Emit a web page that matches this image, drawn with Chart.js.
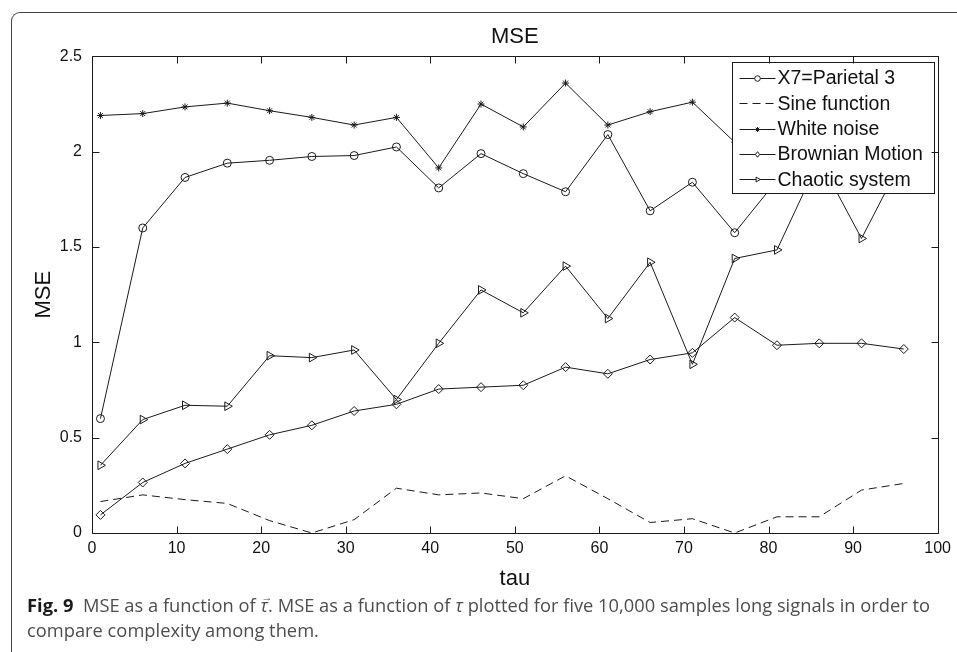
<!DOCTYPE html>
<html><head><meta charset="utf-8">
<script src="https://cdn.jsdelivr.net/npm/chart.js@4/dist/chart.umd.min.js"></script>
<style>
html,body{margin:0;padding:0;background:#fff;overflow:hidden;}
#wrap{position:relative;width:957px;height:652px;overflow:hidden;}
#frame{position:absolute;left:11px;top:12px;width:1000px;height:700px;border-left:1.5px solid #444;border-top:1.5px solid #444;border-top-left-radius:9px;}
#c{position:absolute;left:0;top:0;}
#cap{position:absolute;left:27px;top:593px;font-family:"Open Sans",sans-serif;font-size:18px;color:#4d4d4d;line-height:25px;white-space:nowrap;transform-origin:0 0;}
#cap b{color:#1a1a1a;}
.vec{position:relative;display:inline-block;font-style:italic;}
.vec .arr{position:absolute;left:1px;top:-9px;font-size:11px;font-style:normal;}
</style></head>
<body><div id="wrap"><div id="frame"></div><canvas id="c" width="957" height="600"></canvas>
<div id="cap"><span id="l1"><b>Fig. 9</b>&nbsp; MSE as a function of <span class="vec">τ<span class="arr">→</span></span>. MSE as a function of <i>τ</i> plotted for five 10,000 samples long signals in order to</span><br><span>compare complexity among them.</span></div></div>
<script>
const tau = [1,6,11,16,21,26,31,36,41,46,51,56,61,66,71,76,81,86,91,96];
const parietal = [0.60,1.60,1.865,1.94,1.955,1.975,1.98,2.025,1.81,1.99,1.885,1.79,2.09,1.69,1.84,1.575,1.85,1.95,1.84,2.0];
const sine = [0.165,0.20,0.175,0.155,0.065,0.0,0.07,0.235,0.20,0.21,0.18,0.30,0.18,0.055,0.075,0.0,0.085,0.085,0.225,0.26];
const whiteNoise = [2.19,2.20,2.235,2.255,2.215,2.18,2.14,2.18,1.915,2.25,2.13,2.36,2.14,2.21,2.26,2.05,2.17,2.22,2.12,2.24];
const brownian = [0.095,0.265,0.365,0.44,0.515,0.565,0.64,0.675,0.755,0.765,0.775,0.87,0.835,0.91,0.945,1.13,0.985,0.995,0.995,0.965];
const chaotic = [0.355,0.595,0.67,0.665,0.93,0.92,0.96,0.70,0.995,1.275,1.155,1.40,1.125,1.42,0.885,1.44,1.485,1.96,1.545,1.975];
const seriesLabels = ['X7=Parietal 3','Sine function','White noise','Brownian Motion','Chaotic system'];
const xTicks = {min:0, max:100, step:10};
const yTicks = {min:0, max:2.5, step:0.5};

const INK = '#1a1a1a';
const FONT = "'Liberation Sans', Arial, sans-serif";
const pts = arr => tau.map((t,i)=>({x:t, y:arr[i]}));

const styles = [
  {pointStyle:'circle', pointRadius:4, rotation:0, dash:[]},
  {pointStyle:false, pointRadius:0, rotation:0, dash:[8,5]},
  {pointStyle:'star', pointRadius:3.5, rotation:0, dash:[]},
  {pointStyle:'rectRot', pointRadius:4.5, rotation:0, dash:[]},
  {pointStyle:'triangle', pointRadius:5, rotation:90, dash:[]}
];
const values = [parietal, sine, whiteNoise, brownian, chaotic];

const datasets = values.map((v,i)=>({
  label: seriesLabels[i],
  data: pts(v),
  borderColor: INK,
  borderWidth: 1,
  borderDash: styles[i].dash,
  backgroundColor: 'rgba(0,0,0,0)',
  pointStyle: styles[i].pointStyle || 'circle',
  pointRadius: styles[i].pointRadius,
  pointRotation: styles[i].rotation,
  pointBorderColor: INK,
  pointBorderWidth: 1,
  pointBackgroundColor: 'rgba(0,0,0,0)',
  tension: 0,
  fill: false
}));

function marker(ctx, style, x, y, r, rot){
  ctx.save();
  ctx.translate(x,y);
  ctx.rotate(rot*Math.PI/180);
  ctx.beginPath();
  if (style==='circle'){ ctx.arc(0,0,r,0,Math.PI*2); ctx.fill(); ctx.stroke(); }
  else if (style==='star'){ ctx.moveTo(-r,0);ctx.lineTo(r,0);ctx.moveTo(0,-r);ctx.lineTo(0,r);
    const d=r*0.7; ctx.moveTo(-d,-d);ctx.lineTo(d,d);ctx.moveTo(-d,d);ctx.lineTo(d,-d); ctx.stroke(); }
  else if (style==='rectRot'){ ctx.moveTo(0,-r);ctx.lineTo(r*0.75,0);ctx.lineTo(0,r);ctx.lineTo(-r*0.75,0);ctx.closePath(); ctx.fill(); ctx.stroke(); }
  else if (style==='triangle'){ ctx.moveTo(0,-r);ctx.lineTo(r*0.87,r*0.5);ctx.lineTo(-r*0.87,r*0.5);ctx.closePath(); ctx.fill(); ctx.stroke(); }
  ctx.restore();
}

const frameTicks = {
  id:'frameTicks',
  afterDraw(chart){
    const {ctx, chartArea:a} = chart;
    const x = chart.scales.x, y = chart.scales.y;
    const L=Math.round(a.left)+0.5, R=Math.round(a.right)+0.5, T=Math.round(a.top)+0.5, B=Math.round(a.bottom)+0.5;
    ctx.save();
    ctx.strokeStyle=INK; ctx.lineWidth=1; ctx.setLineDash([]);
    ctx.beginPath();
    ctx.rect(L,T,R-L,B-T);
    ctx.stroke();
    const tl=7;
    ctx.beginPath();
    (x.ticks||[]).forEach(t=>{const p=Math.round(x.getPixelForValue(t.value))+0.5; ctx.moveTo(p,B); ctx.lineTo(p,B-tl); ctx.moveTo(p,T); ctx.lineTo(p,T+tl);});
    (y.ticks||[]).forEach(t=>{const p=Math.round(y.getPixelForValue(t.value))+0.5; ctx.moveTo(L,p); ctx.lineTo(L+tl,p); ctx.moveTo(R,p); ctx.lineTo(R-tl,p);});
    ctx.stroke();
    ctx.restore();
  }
};

const boxLegend = {
  id:'boxLegend',
  afterDraw(chart){
    const {ctx, chartArea:a} = chart;
    const w=202, h=131;
    const left=Math.round(a.right-206)+0.5, top=Math.round(a.top+5.6)+0.5;
    ctx.save();
    ctx.fillStyle='#fff'; ctx.strokeStyle=INK; ctx.lineWidth=1; ctx.setLineDash([]);
    ctx.fillRect(left,top,w,h); ctx.strokeRect(left,top,w,h);
    ctx.font = '19.5px ' + FONT;
    ctx.textBaseline='middle'; ctx.textAlign='left';
    chart.data.datasets.forEach((ds,i)=>{
      const yy = top + 15.5 + i*25.3;
      ctx.strokeStyle=INK; ctx.lineWidth=1;
      ctx.setLineDash(styles[i].dash);
      ctx.beginPath(); ctx.moveTo(left+7, Math.round(yy)+0.5); ctx.lineTo(left+43, Math.round(yy)+0.5); ctx.stroke();
      ctx.setLineDash([]);
      if (styles[i].pointStyle){ ctx.fillStyle='#fff'; marker(ctx, styles[i].pointStyle, left+25, Math.round(yy)+0.5, styles[i].pointStyle==='star'?2.5:2.8, styles[i].rotation); }
      ctx.fillStyle='#111';
      ctx.fillText(ds.label, left+45, yy+1);
    });
    ctx.restore();
  }
};

new Chart(document.getElementById('c'), {
  type:'line',
  data:{datasets},
  plugins:[boxLegend, frameTicks],
  options:{
    responsive:false, animation:false, devicePixelRatio:1,
    layout:{padding:{left:0,right:19,top:0,bottom:0}},
    plugins:{
      legend:{display:false},
      tooltip:{enabled:false},
      title:{display:true, text:'MSE', fullSize:false, color:'#111', font:{family:FONT, size:22, weight:'normal'}, padding:{top:24,bottom:6}}
    },
    scales:{
      x:{type:'linear', min:xTicks.min, max:xTicks.max,
        ticks:{stepSize:xTicks.step, color:'#111', font:{family:FONT,size:16}, padding:6, maxRotation:0},
        grid:{display:false, drawTicks:false}, border:{display:false},
        title:{display:true, text:'tau', color:'#111', font:{family:FONT,size:22}, padding:{top:0,bottom:8}},
        afterFit(s){ s.height = 67; }
      },
      y:{type:'linear', min:yTicks.min, max:yTicks.max,
        ticks:{stepSize:yTicks.step, color:'#111', font:{family:FONT,size:16}, padding:10,
          callback:v => String(Math.round(v*10)/10)},
        grid:{display:false, drawTicks:false}, border:{display:false},
        title:{display:true, text:'MSE', color:'#111', font:{family:FONT,size:22}, padding:{top:31,bottom:0}},
        afterFit(s){ s.width = 92; }
      }
    }
  }
});

const l1 = document.getElementById('l1');
const wdt = l1.getBoundingClientRect().width;
if (wdt > 0) document.getElementById('cap').style.transform = 'scaleX(' + (903/wdt) + ')';
</script>
</body></html>
